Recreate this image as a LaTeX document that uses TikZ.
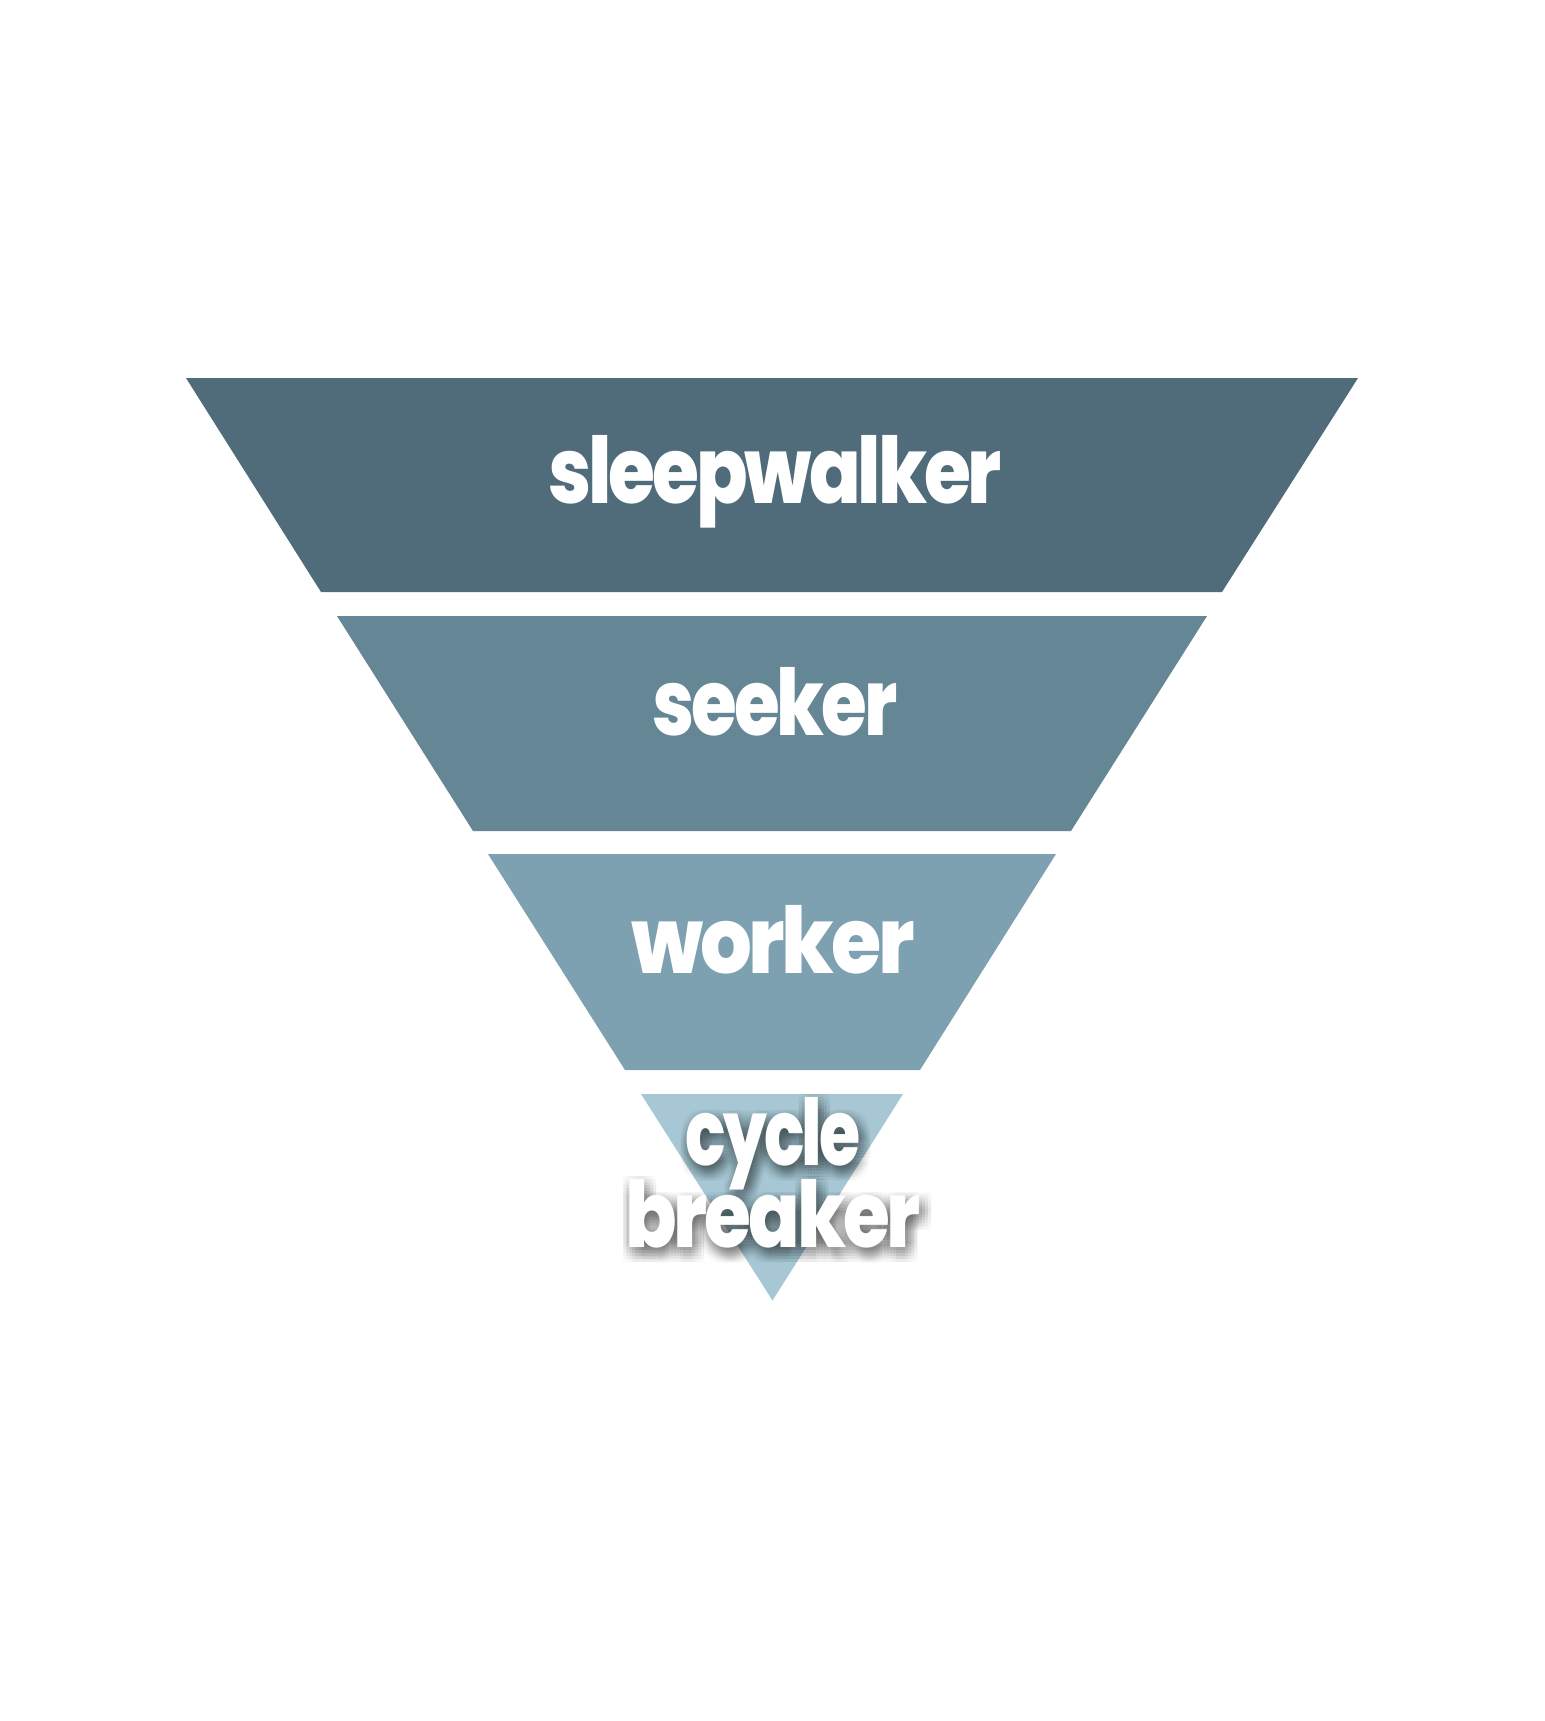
\documentclass[tikz,border=0pt]{standalone}
\usepackage{fontspec}
\setmainfont{Poppins}[BoldFont={Poppins ExtraBold}]
\usetikzlibrary{calc}

\definecolor{bandOne}{HTML}{506C7A}
\definecolor{bandTwo}{HTML}{658695}
\definecolor{bandThree}{HTML}{7DA1B0}
\definecolor{bandFour}{HTML}{A7C7D4}

\newcommand{\tightFont}{\fontsize{46}{46}\selectfont\bfseries\addfontfeature{LetterSpace=-4}}
\newcommand{\cycleLabel}{\scalebox{0.725}[1]{cycle}}
\newcommand{\breakerLabel}{\scalebox{0.825}[1]{breaker}}

\tikzset{
  bandlabel/.style={anchor=base, inner sep=0pt, text=white, font=\tightFont},
  shadowlabel/.style={anchor=base, inner sep=0pt, text=black, opacity=0.016,
    font=\tightFont}
}

\begin{document}
\begin{tikzpicture}[x=0.5pt,y=-0.5pt]
  \useasboundingbox[fill=white] (0,0) rectangle (1545,1721);

  %% Building the bands of the funnel, top to bottom
  \foreach \yT/\yB/\xTL/\xTR/\xBL/\xBR/\col in
    {378/592/186/1358/321/1222/bandOne,
     616/831/337/1207/473/1071/bandTwo,
     854/1070/488/1056/625/920/bandThree}
  {
    \fill[\col] (\xTL,\yT) -- (\xTR,\yT) -- (\xBR,\yB) -- (\xBL,\yB) -- cycle;
  }
  \coordinate (TL4) at (641,1094);
  \coordinate (TR4) at (903,1094);
  \coordinate (TIP) at (772.5,1300.5);
  \fill[bandFour] (TL4) -- (TR4) -- (TIP) -- cycle;

  %% Labels of the bands
  \node[bandlabel] (SLEEP) at (775,503) {\scalebox{0.826}[1]{sleepwalker}};
  \node[bandlabel] (SEEK)  at (775,735) {\scalebox{0.805}[1]{seeker}};
  \node[bandlabel] (WORK)  at (773,973) {\scalebox{0.885}[1]{worker}};

  %% Soft shadow under the last label
  \foreach \dx in {-6,-3,...,12}
  \foreach \dy in {-3,0,...,15}
  {
    \node[shadowlabel] at ($(773,1165)+(\dx,\dy)$) {\cycleLabel};
    \node[shadowlabel] at ($(773,1247)+(\dx,\dy)$) {\breakerLabel};
  }
  \node[bandlabel] (CYCLE) at (773,1165) {\cycleLabel};
  \node[bandlabel] (BREAK) at (773,1247) {\breakerLabel};
\end{tikzpicture}
\end{document}
